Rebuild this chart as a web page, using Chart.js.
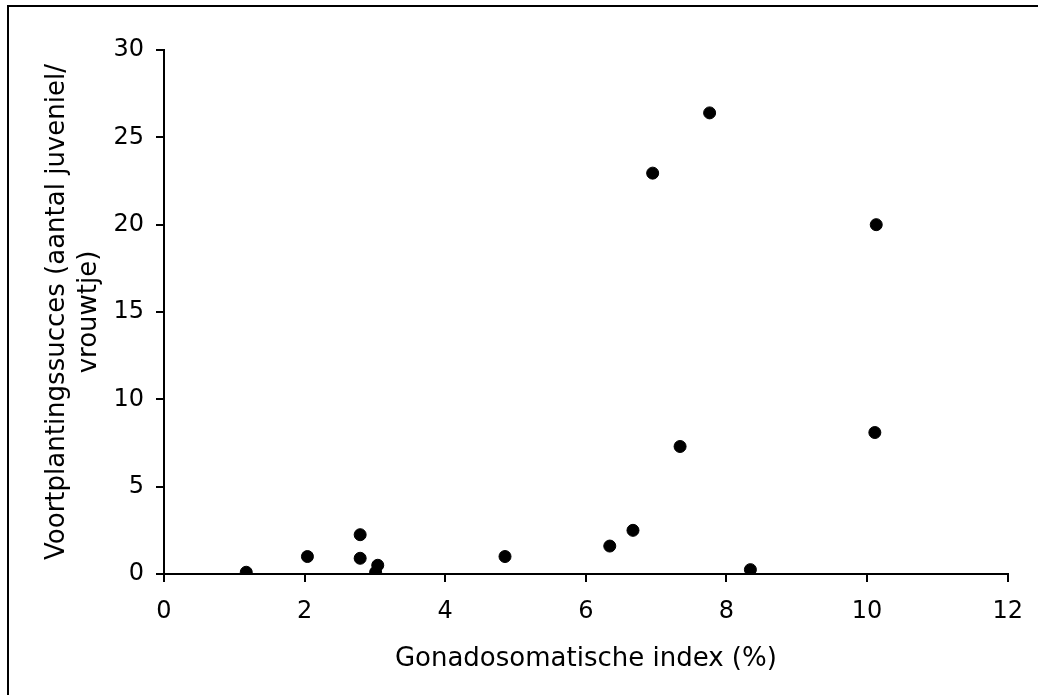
<!DOCTYPE html>
<html>
<head>
<meta charset="utf-8">
<script src="https://cdn.jsdelivr.net/npm/chart.js@4"></script>
<style>
  body { margin: 0; background: #fff; }
  canvas { display: block; }
</style>
</head>
<body>
<canvas id="gsiChart" width="1038" height="695"></canvas>
<script>
const gsiValues = [1.17, 2.04, 2.79, 2.79, 3.01, 3.04, 4.85, 6.34, 6.67, 6.95, 7.34, 7.76, 8.34, 10.11, 10.13];
const successValues = [0.1, 1.0, 2.25, 0.9, 0.1, 0.5, 1.0, 1.6, 2.5, 22.95, 7.3, 26.4, 0.25, 8.1, 20.0];
const xTicks = [0, 2, 4, 6, 8, 10, 12];
const yTicks = [0, 5, 10, 15, 20, 25, 30];
const xTitle = "Gonadosomatische index (%)";
const yTitle = ["Voortplantingssucces (aantal juveniel/", "vrouwtje)"];

const points = gsiValues.map((x, i) => ({ x: x, y: successValues[i] }));

// left + top frame line of the original picture
const framePlugin = {
  id: "frame",
  beforeDraw(chart) {
    const c = chart.ctx;
    c.save();
    c.fillStyle = "#fff";
    c.fillRect(0, 0, chart.width, chart.height);
    c.strokeStyle = "#000";
    c.lineWidth = 2;
    c.beginPath();
    c.moveTo(8, chart.height);
    c.lineTo(8, 6);
    c.lineTo(chart.width, 6);
    c.stroke();
    c.restore();
  }
};

const tickFont = { family: "DejaVu Sans", size: 24 };
const titleFont = { family: "DejaVu Sans", size: 26 };

new Chart(document.getElementById("gsiChart"), {
  type: "scatter",
  data: {
    datasets: [{
      data: points,
      backgroundColor: "#000",
      borderColor: "#000",
      pointRadius: 6,
      pointHoverRadius: 6
    }]
  },
  options: {
    responsive: false,
    animation: false,
    layout: { padding: { left: 10, top: 50, right: 30, bottom: 0 } },
    plugins: { legend: { display: false }, tooltip: { enabled: false } },
    scales: {
      x: {
        type: "linear",
        min: xTicks[0],
        max: xTicks[xTicks.length - 1],
        afterBuildTicks: s => { s.ticks = xTicks.map(v => ({ value: v })); },
        afterFit: s => { s.height = 121; },
        border: { color: "#000", width: 2 },
        grid: { drawOnChartArea: false, color: "#000", tickLength: 8, lineWidth: 2 },
        ticks: { color: "#000", font: tickFont, padding: 15, maxRotation: 0 },
        title: { display: true, text: xTitle, color: "#000", font: titleFont, padding: { top: 10, bottom: 20 } }
      },
      y: {
        type: "linear",
        min: yTicks[0],
        max: yTicks[yTicks.length - 1],
        afterBuildTicks: s => { s.ticks = yTicks.map(v => ({ value: v })); },
        afterFit: s => { s.width = 154; },
        border: { color: "#000", width: 2 },
        grid: { drawOnChartArea: false, color: "#000", tickLength: 8, lineWidth: 2 },
        ticks: { color: "#000", font: tickFont, padding: 12 },
        title: { display: true, text: yTitle, color: "#000", font: titleFont, padding: { top: 32, bottom: 10 } }
      }
    }
  },
  plugins: [framePlugin]
});
</script>
</body>
</html>
